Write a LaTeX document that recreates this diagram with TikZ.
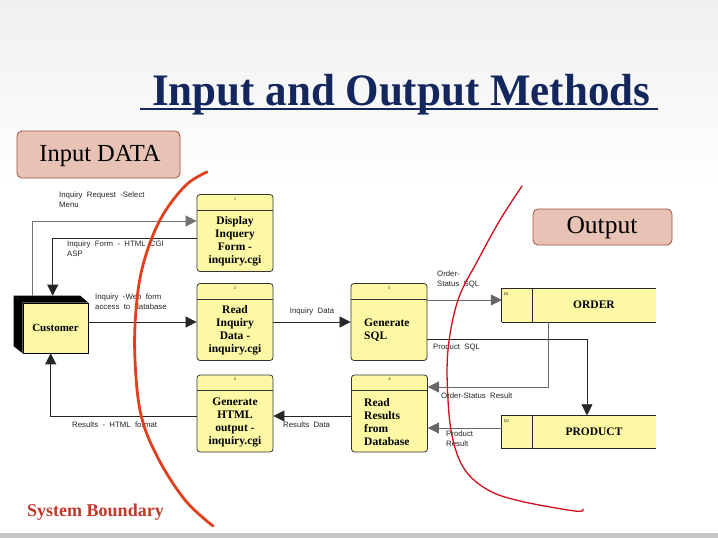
\documentclass[tikz,border=0pt]{standalone}
\usepackage{fontspec}
\setmainfont{Liberation Serif}
\setsansfont{Liberation Sans}
\usetikzlibrary{arrows.meta,calc}
\definecolor{procfill}{HTML}{FCF8A4}
\definecolor{titleblue}{HTML}{13275E}
\definecolor{pinkfill}{HTML}{E8C3B5}
\definecolor{pinkdraw}{HTML}{A0503C}
\definecolor{boundred}{HTML}{E0401E}
\definecolor{thinred}{HTML}{D01020}
\definecolor{sbtext}{HTML}{C0392B}
\tikzset{
  proc/.style={draw=black!80, line width=0.8pt, fill=procfill, rounded corners=3pt, minimum width=76pt, minimum height=77pt, inner sep=0pt},
  ptext/.style={font=\fontsize{11.5}{13}\selectfont\bfseries, align=center, inner sep=0pt},
  ptextl/.style={font=\fontsize{11.5}{13}\selectfont\bfseries, align=left, inner sep=0pt},
  pnum/.style={font=\fontsize{4}{4}\selectfont, inner sep=0pt},
  store/.style={fill=procfill, minimum width=154pt, minimum height=33pt, inner sep=0pt},
  stext/.style={font=\fontsize{11.5}{13}\selectfont\bfseries, inner sep=0pt},
  flow/.style={draw=black!85, line width=0.7pt, -{Triangle[length=11pt,width=11pt]}},
  lab/.style={font=\sffamily\fontsize{7.8}{10}\selectfont, text=black!85, align=left, inner sep=0pt},
  pinkbox/.style={draw=pinkdraw, line width=0.8pt, fill=pinkfill, rounded corners=5pt, inner sep=0pt}
}
\begin{document}
\begin{tikzpicture}[x=1pt,y=-1pt]
\useasboundingbox (0,0) rectangle (718,538);
\fill[white] (0,0) rectangle (718,538);
\shade[top color=gray!12, bottom color=white] (0,0) rectangle (718,190);
\fill[gray!45] (0,533) rectangle (718,538);

% title
\node[anchor=base west, inner sep=0pt, text=titleblue, font=\fontsize{45}{45}\selectfont\bfseries, xscale=0.955] (title) at (152,105) {Input and Output Methods};
\draw[titleblue, line width=2.4pt] (140,109) -- (658,109);

% pink labels
\node[pinkbox, minimum width=163pt, minimum height=47pt] (indata) at (98.5,154.5) {};
\node[inner sep=0pt, font=\fontsize{24.5}{24.5}\selectfont] (indatat) at (100,156) {Input DATA};
\node[pinkbox, minimum width=139pt, minimum height=36pt] (output) at (602.5,227) {};
\node[inner sep=0pt, font=\fontsize{25.5}{25.5}\selectfont] (outputt) at (602,228) {Output};

% customer external entity
\node[fill=procfill, draw=black, line width=0.6pt, minimum width=65pt, minimum height=50pt, inner sep=0pt] (cust) at (55.5,328) {};
\fill[black] (cust.north west) -- ++(-9,-7) -- ([shift={(-8pt,7pt)}]cust.north east) -- (cust.north east) -- cycle;
\fill[black] (cust.north west) -- ++(-9,-7) -- ([shift={(-9pt,7pt)}]cust.south west) -- (cust.south west) -- cycle;
\node[font=\fontsize{11}{13}\selectfont\bfseries, inner sep=0pt] (custt) at (cust.center) {Customer};

% processes
\node[proc] (p1) at (235,233) {};
\node[proc] (p2) at (235,322) {};
\node[proc] (p3) at (389,322) {};
\node[proc] (p6) at (235,413.5) {};
\node[proc] (p4) at (389.5,413.5) {};
\foreach \p in {p1,p2,p3,p6,p4}{
  \draw[black!80, line width=0.8pt] ([yshift=-16pt]\p.north west) -- ([yshift=-16pt]\p.north east);
}
\node[pnum] (n1) at ([yshift=-5pt]p1.north) {1};
\node[pnum] (n2) at ([yshift=-5pt]p2.north) {2};
\node[pnum] (n3) at ([yshift=-5pt]p3.north) {3};
\node[pnum] (n6) at ([yshift=-5pt]p6.north) {6};
\node[pnum] (n4) at ([yshift=-5pt]p4.north) {4};

\node[ptext] (p1t) at ([yshift=-8.5pt]p1.center) {Display\\Inquery\\Form -\\inquiry.cgi};
\node[ptext] (p2t) at ([yshift=-8.5pt]p2.center) {Read\\Inquiry\\Data -\\inquiry.cgi};
\node[ptextl, anchor=west] (p3t) at (364,330) {Generate\\SQL};
\node[ptext] (p6t) at ([yshift=-8.5pt]p6.center) {Generate\\HTML\\output -\\inquiry.cgi};
\node[ptextl, anchor=west] (p4t) at (364,422) {Read\\Results\\from\\Database};

% data stores
\node[store] (order) at (579,305.5) {};
\node[store] (product) at (579,432) {};
\foreach \s in {order,product}{
  \draw[black!85, line width=1pt] (\s.north east) -- (\s.north west) -- (\s.south west);
  \draw[black!85, line width=0.8pt] (\s.south west) -- (\s.south east);
  \draw[black!85, line width=0.8pt] ([xshift=31pt]\s.north west) -- ([xshift=31pt]\s.south west);
}
\node[stext] (ordert) at (594,305) {ORDER};
\node[stext] (productt) at (594,432) {PRODUCT};
\node[pnum, anchor=north west] (d1) at ([shift={(2pt,-4pt)}]order.north west) {D1};
\node[pnum, anchor=north west] (d2) at ([shift={(2pt,-4pt)}]product.north west) {D2};

% connectors
\draw[flow, draw=black!55] ([shift={(10pt,7pt)}]cust.north west) |- ([yshift=12pt]p1.west);
\draw[flow] ([yshift=-5pt]p1.west) -| ([shift={(30pt,7pt)}]cust.north west);
\draw[flow] (cust.east |- p2.west) -- (p2.west);
\draw[flow] (p2.east) -- (p3.west);
\draw[flow, draw=black!60] ([yshift=22pt]p3.east) -- ([yshift=22pt]p3.east -| order.west);
\draw[flow] ([yshift=-17pt]p3.east) -| ([xshift=8pt]product.north);
\draw[flow, draw=black!60] ([xshift=-31pt]order.south) |- ([yshift=26.5pt]p4.east);
\draw[flow, draw=black!60] ([yshift=4pt]product.west) -- ([yshift=4pt]product.west -| p4.east);
\draw[flow] ([yshift=-2.5pt]p4.west) -- ([yshift=-2.5pt]p4.west -| p6.east);
\draw[flow] ([yshift=-2.5pt]p6.west) -| ([xshift=28pt]cust.south west);

% labels
\node[lab, anchor=north west] (l1) at (59,192) {Inquiry~ Request~ -Select\\Menu};
\node[lab, anchor=north west] (l2) at (67,241) {Inquiry~ Form~ -~ HTML~ CGI\\ASP};
\node[lab, anchor=north west] (l3) at (95,294) {Inquiry~ -Web~ form\\access~ to~ database};
\node[lab] (l4) at (312,311) {Inquiry~ Data};
\node[lab, anchor=north west] (l5) at (437,271) {Order-\\Status~ SQL};
\node[lab, anchor=west] (l6) at (433,347) {Product~ SQL};
\node[lab, anchor=west] (l7) at (441,396) {Order-Status~ Result};
\node[lab, anchor=north west] (l8) at (446,431) {Product\\Result};
\node[lab, anchor=west] (l9) at (283,425) {Results~ Data};
\node[lab, anchor=west] (l10) at (72,425) {Results~ -~ HTML~ format};

% system boundaries
\draw[boundred, line width=2.8pt, line cap=round] plot[smooth, tension=0.6] coordinates {(207,172) (185,186) (160,220) (143,265) (136,310) (135,360) (141,415) (158,458) (185,500) (213,526)};
\draw[thinred, line width=1.3pt, line cap=round] plot[smooth, tension=0.6] coordinates {(522,186) (500,220) (478,260) (458,300) (448,350) (448,400) (453,440) (465,470) (488,490) (520,501) (575,511) (583,509)};
\node[text=sbtext, font=\fontsize{18}{18}\selectfont\bfseries, inner sep=0pt] (sb) at (95.5,512) {System Boundary};
\end{tikzpicture}
\end{document}
